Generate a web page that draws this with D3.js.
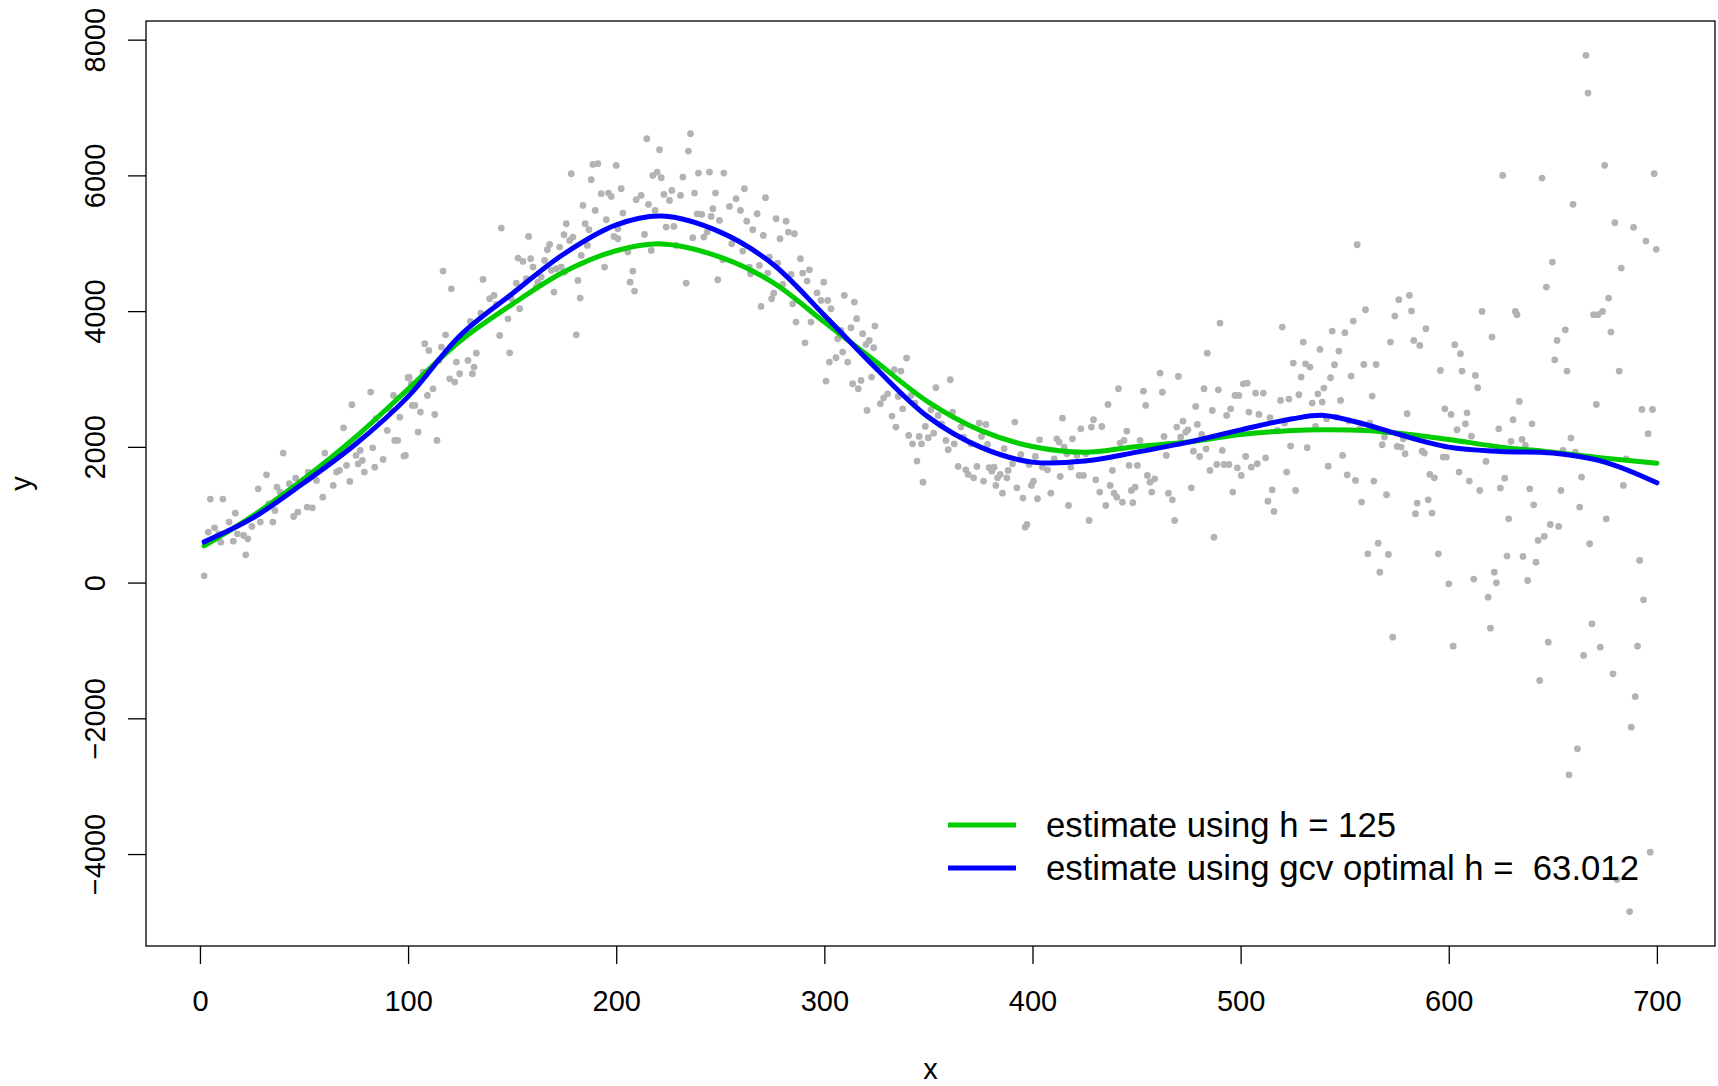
<!DOCTYPE html>
<html>
<head>
<meta charset="utf-8">
<script src="https://cdnjs.cloudflare.com/ajax/libs/d3/7.8.5/d3.min.js"></script>
<style>
  body { margin: 0; background: #fff; }
  svg { display: block; }
  text { font-family: "Liberation Sans", Arial, Helvetica, sans-serif; }
</style>
</head>
<body>
<svg id="chart" width="1718" height="1086"></svg>
<script>
const scatter = [
  [2,100],[5,1230],[11,1230],[4,743],[7,807],[9,719],[10,596],[14,891],[17,1023],[18,719],[16,610],[22,409],[23,645],[21,694],[25,827],[28,1382],[29,891],[32,1588],[33,1161],[35,891],[36,1063],[37,1407],[40,1908],[38.5,1333],[43,1456],[45,974],[47,1038],[46,1539],[51.5,1112],[54,1102],[52,1628],[56,1505],[59,1259],[60,1908],[62,1760],[64,1431],[65.6,1628],[67,1652],[69,2281],[72,1490],[70.4,1726],[73,2620],[75,1873],[77,1947],[78,1800],[76,1750],[79,1628],[82,2807],[83,1986],[84,1701],[88,1814],[90,2242],[93,2758],[93.6,2094],[95,2094],[96,2438],[98,1864],[100,3018],[101.6,2930],[102,2610],[84.5,2414],[91,2561],
  [98.7,1873],[104.8,2217],[113.9,2094],[112.8,2477],[105.9,2512],[103.2,2610],[100.5,3027],[107.2,3101],[109.3,2757],[112,2855],[108,3519],[110,3420],[114.9,3273],[116,3470],[118,3651],[118.9,3420],[120,3003],[122.4,2954],[124.8,3077],[123.2,3249],[125.9,3592],[128.8,3273],[131.7,3175],[130.9,3077],[132.8,3381],[129.9,3848],[134.9,3971],[116.8,4590],[120.8,4329],[136,4467],[139.2,4182],[141.3,4231],[142.4,4098],[144,3641],[144.8,5223],[148,3887],[148.8,3386],[149.6,4182],[152,4413],[153.6,4035],[152.8,4781],[155.2,4732],[156.8,4477],[157.9,5101],[158.9,4772],[160,4649],[162.4,4428],[164,4501],[165.6,4747],[166.9,4904],[168,4983],[170.1,4280],[171.2,4624],[172.8,4943],[173.6,4649],[174.9,5125],[176,5287],[177.6,5042],[179.2,5091],[178.4,6024],[180.8,3651],[181.6,4452],[182.7,4192],[184,5558],[185.1,5287],[186.1,4968],[186.9,5199],[188,5936],[188.8,6162],[189.9,5484],[191.2,6172],[192.8,5730],[194.4,4649],[195.2,5346],[196.3,5739],[197.6,5690],[198.9,5101],[200,6147],[200.8,5214],[202.4,5803],[203.2,5445],[175.2,4575],[183.2,4821],[168.8,4600],[161.6,4354],
  [200.8,5066],[205.6,4870],[208,4590],[206.7,4427],[208.8,4295],[209.6,5641],[212,5705],[214.7,6540],[215.5,5572],[213.6,5130],[216.8,4894],[217.6,5999],[219.7,6049],[220.8,6378],[221.6,5965],[218.7,5484],[222.9,5720],[224,5238],[225.6,5631],[226.7,5778],[227.7,5248],[228.8,4968],[230.9,5705],[232,5975],[233.6,4413],[234.7,6358],[235.7,6614],[236.8,5081],[237.6,5739],[238.9,5434],[239.5,6034],[241.1,5425],[242.1,5091],[243.7,5164],[244.8,6049],[245.6,5395],[246.4,5508],[247.7,5739],[248.8,4462],[249.6,5336],[251.2,4757],[251.7,6034],[254.4,5543],[255.5,4993],[257.6,5656],[259.7,5484],[260.8,4884],[261.6,5803],[262.7,5326],[264,4649],[264.5,4550],[265.6,5199],[267.7,5435],[268.8,4673],[269.6,4069],[270.7,5115],[271.7,5671],[272.8,4560],[273.6,4796],[274.7,4182],[275.7,4265],[276.8,5361],[277.6,4708],[278.7,5066],[280,4393],[281.6,5326],[282.7,5164],[284,4540],[284.8,4108],[285.6,5140],[286.4,3838],[288.5,4772],[289.6,4560],[290.7,3533],[291.7,4442],[292.8,4609],[293.6,3838],[296.5,4270],[298.4,4157],[299.7,4427],
  [301.6,4158],[303.2,4035],[300.8,2969],[302.4,3249],[305.6,3313],[306.4,3593],[308,3716],[308.8,3396],[311.2,3249],[309.6,4232],[312.8,3755],[314.4,4133],[315.5,3888],[313.6,2930],[316.3,2856],[317.6,2979],[318.4,3667],[320,3509],[321.6,3568],[323.7,3460],[324.3,3780],[320.5,2537],[322.7,3028],[325.6,3175],[326.9,2635],[328.5,2723],[330.4,2782],[332.5,2453],[333.6,3136],[334.4,2291],[335.5,2743],[336.8,3116],[337.6,2561],[339.5,3308],[340.5,2168],[341.6,2758],[342.4,2045],[343.5,2645],[344.5,1790],[345.6,2153],[346.7,2045],[347.4,1480],[348.5,2301],[349.9,2134],[351.2,2546],[352.5,2202],[353.6,2871],[354.7,2463],[356.3,2340],[358.4,2094],[359.5,1957],[360.5,2989],[361.6,2512],[362.4,2045],[364.3,1711],[365.6,2291],[366.9,2143],[368,1662],[369.1,1593],[370.4,2045],[371.7,1544],[373.3,1711],[374.4,2350],[375.5,2153],[376.5,1495],[377.6,2330],[378.4,2035],[379.2,1692],[380.5,1642],[381.6,1701],[382.4,1431],[383.2,1544],[384.5,1593],[385.6,1318],[386.4,1972],[387.7,1544],[388.3,1652],[390.4,1750],[391.5,2365],[392.5,1397],[394.4,1888],[395.4,1245],[396.5,817],[397.3,856],[398.4,1741],[399.5,1431],[400.5,1495],[401.4,1859],[402.4,1235],[403.4,2104],[404.8,1701],
  [407.2,1662],[408.8,1318],[410.4,1824],[411.7,2119],[412.8,2070],[413.3,1564],[414.4,2423],[415.2,1996],[416.5,1898],[417.3,1136],[418.4,1701],[419.2,2119],[421.3,1873],[422.4,1578],[423.2,2266],[424.5,1578],[425.6,1898],[427.2,915],[428.3,2291],[429.3,2399],[430.4,1514],[432.3,1333],[433.3,2300],[435.2,1136],[436.3,2625],[437.3,1431],[438.4,1652],[439.2,1318],[440.5,1259],[441.3,2856],[442.1,2055],[443.2,1185],[444,2094],[445.3,2232],[446.4,1726],[447.5,1357],[448.2,1176],[449.3,1406],[450.4,1726],[451.7,2094],[453.3,2821],[454.4,2610],[455.2,1578],[456.5,1480],[457.3,1333],[458.7,1529],[461.3,3087],[462.4,2806],[463.2,2153],[464.3,1873],[465.3,1318],[467.2,1220],[468.3,915],[469.3,2291],[470.1,3037],[471.2,2143],[472.3,2379],[473.6,2217],[474.7,2251],[476.3,1397],[477.3,1937],[478.4,2595],[479.2,2330],[480.3,1858],[481.3,2183],[482.4,2856],[483.4,1971],[484,3381],[485.3,1652],[486.4,2536],[487.2,669],[488.5,1740],[489.3,2841],[490.1,3824],[491.2,1947],[492,1740],[493.3,2463],[494.4,1740],[495.2,2561],[496.2,1333],[497.3,2757],[498.4,1691],[499.2,2757],[500.3,1578],[501.3,2929],[502.4,1858],[503.2,2939],[504,2512],[505.1,1701],
  [507.2,2792],[508.8,2478],[510.9,2792],[508,1751],[512,1839],[513.1,1200],[515.2,1367],[516,1048],[514.1,2429],[517.6,2242],[519.2,2684],[520,3765],[521.1,2350],[522.1,1628],[523.2,2704],[524,2011],[525.3,3234],[526.4,1358],[528,2768],[529.1,3028],[530.1,3544],[531.2,3224],[532,1987],[533.3,3175],[534.4,2645],[536,2301],[537.1,2782],[538.1,3436],[539.2,2660],[540,2866],[541.3,2414],[542.1,1716],[543.2,3018],[544,3706],[545.1,3210],[546.1,2439],[547.2,3411],[548,2684],[549,1873],[550.1,3681],[551.2,1588],[552,2380],[553.1,3043],[554.1,3853],[555.2,1505],[556,4978],[557.3,2267],[558.1,1186],[559.2,3215],[560,4020],[561.1,424],[562.1,2350],[563.2,2748],[564,1495],[565.1,3215],[566.1,581],[566.9,154],[568,2031],[569.1,2144],[570.1,1294],[571,414],[572,3544],[573.1,-804],[574.1,3927],[575.2,2006],[576,4168],[577.1,1996],[578.1,2119],[579,1898],[580,2488],[581.1,4232],[582.1,4001],[583.2,3568],[584,1014],[584.8,1171],[586.1,3495],[587.2,1937],[588.3,1908],[589,3740],[590.1,1220],[590.9,1593],[592,1024],[593.1,1544],[595,424],[596,3126],[597.3,1849],[598.1,2561],[598.9,1849],[600,-18],[601.1,2478],[602.1,-937],[602.9,3505],[604,2252],[605,1628],[605.6,3372],[606.4,3117],
  [608.8,2502],[608,2340],[610.9,2158],[612.8,3052],[613.9,2871],[616,3996],[617.9,1785],[620.8,3617],[624,2266],[625.9,6000],[629.9,2080],[630.9,2399],[632,3996],[632.8,3947],[633.9,2669],[635.2,2109],[636.8,2021],[640,2340],[644.8,5961],[646.9,4354],[649.8,4723],[650.9,3283],[652,3568],[656,3725],[656.8,3116],[658.7,2129],[659.7,5573],[663.8,1554],[665.9,7769],[666.9,7213],[669.6,3947],[670.9,2625],[671.7,3947],[673.9,3996],[674.9,6148],[676.8,4192],[677.9,3691],[679.8,5302],[681.9,3116],[682.9,4634],[683.9,1431],[685.3,1824],[688.8,5234],[692.8,2551],[694.7,5032],[695.8,2193],[697.9,2551],[698.7,6025],[699.7,4910],[609.9,1495],[614.9,1357],[624.8,1392],[626.9,1539],[638.9,1382],[653.9,1357],[654.9,1947],[660.8,1922],
  [640.8,1146],[662.9,1112],[628.8,940],[648.8,856],[652.8,827],[675.7,940],[645.9,680],[642.9,621],[667.7,572],[628,390],[635.7,385],[641.9,301],[691.7,326],[621.9,154],[612,51],[622.9,-3],[637.9,31],[618.9,-215],[693.6,-254],[620,-672],[668.8,-608],[647.8,-878],[664.8,-1074],[672.8,-951],[690.7,-937],[678.9,-1345],[643.7,-1443],[689.6,-1679],[687.7,-2131],[661.8,-2450],[657.8,-2833],[696.8,-3973],[680.8,-4376],[686.9,-4848]
];

// fitted curves, read at these x positions
const fitX    = [2, 25, 50, 75, 100, 125, 150, 175, 200, 222, 250, 275, 300, 325, 350, 375, 400, 425, 450, 475, 500, 525, 540, 560, 575, 600, 625, 650, 675, 700];
const fitH125 = [540, 975, 1530, 2150, 2850, 3560, 4100, 4580, 4890, 4990, 4796, 4427, 3838, 3249, 2659, 2242, 2006, 1922, 2006, 2070, 2183, 2242, 2252, 2242, 2203, 2109, 1996, 1922, 1834, 1760];
const fitGcv  = [600, 945, 1470, 2045, 2740, 3641, 4256, 4845, 5270, 5400, 5164, 4698, 3940, 3151, 2438, 1996, 1775, 1790, 1922, 2070, 2251, 2414, 2463, 2330, 2193, 1996, 1932, 1908, 1775, 1470];

const xTicks = [0, 100, 200, 300, 400, 500, 600, 700];
const yTicks = [-4000, -2000, 0, 2000, 4000, 6000, 8000];
const xLimits = [2, 700];
const yLimits = [-4850, 7770];
const legendLabels = ['estimate using h = 125', 'estimate using gcv optimal h =  63.012'];
const legendColors = ['#00cd00', '#0000ff'];

const svg = d3.select('#chart'),
  margin = {top: 21, right: 3, bottom: 140, left: 146},
  width = +svg.attr('width') - margin.left - margin.right,
  height = +svg.attr('height') - margin.top - margin.bottom;

// R style 4% padding around the data range
function pad(lim) {
  const d = (lim[1] - lim[0]) * 0.04;
  return [lim[0] - d, lim[1] + d];
}

const x = d3.scaleLinear().domain(pad(xLimits)).range([0, width]),
  y = d3.scaleLinear().domain(pad(yLimits)).range([height, 0]);

const g = svg.append('g')
  .attr('transform', 'translate(' + margin.left + ',' + margin.top + ')');

// points
g.append('g').selectAll('circle')
  .data(scatter)
  .enter().append('circle')
  .attr('cx', d => x(d[0]))
  .attr('cy', d => y(d[1]))
  .attr('r', 3.4)
  .attr('fill', '#b3b3b3');

const line = d3.line()
  .x((d, i) => x(fitX[i]))
  .y(d => y(d))
  .curve(d3.curveCatmullRom);

g.append('path').datum(fitH125)
  .attr('d', line)
  .attr('fill', 'none')
  .attr('stroke', legendColors[0])
  .attr('stroke-width', 5)
  .attr('stroke-linecap', 'round');

g.append('path').datum(fitGcv)
  .attr('d', line)
  .attr('fill', 'none')
  .attr('stroke', legendColors[1])
  .attr('stroke-width', 5)
  .attr('stroke-linecap', 'round');

// axes
const xAxis = g.append('g')
  .attr('transform', 'translate(0,' + height + ')')
  .call(d3.axisBottom(x).tickValues(xTicks).tickSize(18).tickPadding(26).tickFormat(d3.format('d')));

const yAxis = g.append('g')
  .call(d3.axisLeft(y).tickValues(yTicks).tickSize(18).tickFormat(d3.format('d')));

yAxis.selectAll('.tick text')
  .attr('x', null).attr('dy', null)
  .attr('text-anchor', 'middle')
  .attr('transform', 'translate(-41,0) rotate(-90)');

[xAxis, yAxis].forEach(a => {
  a.select('.domain').remove();
  a.selectAll('.tick line').attr('stroke', '#000').attr('stroke-width', 1.3);
  a.selectAll('.tick text').attr('font-size', 29).attr('fill', '#000')
    .style('font-family', '"Liberation Sans", Arial, sans-serif');
});

// box
g.append('rect')
  .attr('width', width).attr('height', height)
  .attr('fill', 'none').attr('stroke', '#000').attr('stroke-width', 1.3);

// axis titles
svg.append('text')
  .attr('x', margin.left + width / 2).attr('y', 1079)
  .attr('text-anchor', 'middle').attr('font-size', 29)
  .text('x');

svg.append('text')
  .attr('transform', 'translate(31,' + (margin.top + height / 2) + ') rotate(-90)')
  .attr('text-anchor', 'middle').attr('font-size', 29)
  .text('y');

// legend
const legend = svg.append('g').attr('transform', 'translate(948,825)');
legendLabels.forEach((lab, i) => {
  const row = legend.append('g').attr('transform', 'translate(0,' + (i * 43) + ')');
  row.append('line')
    .attr('x1', 0).attr('x2', 68)
    .attr('stroke', legendColors[i]).attr('stroke-width', 5);
  row.append('text')
    .attr('x', 98).attr('y', 12)
    .attr('font-size', 34.7)
    .style('white-space', 'pre')
    .text(lab);
});
</script>
</body>
</html>
